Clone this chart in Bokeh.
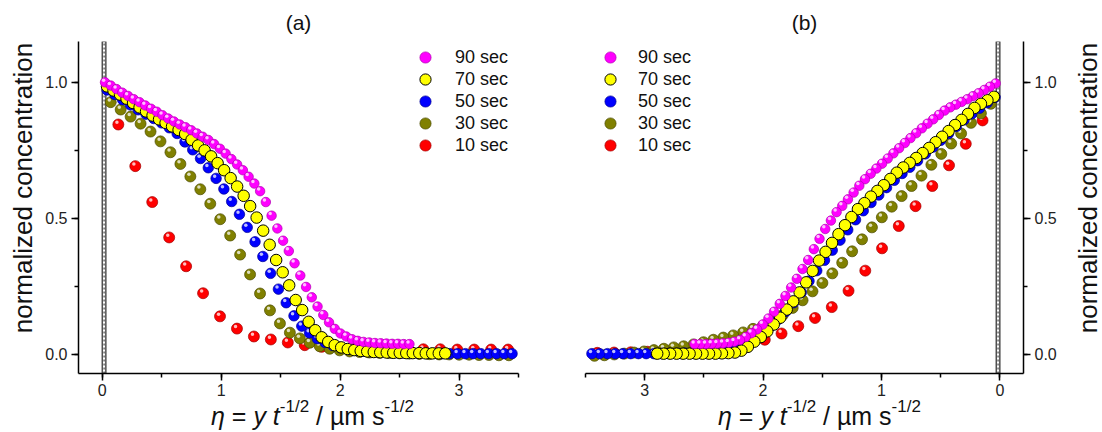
import numpy as np
from bokeh.plotting import figure
from bokeh.layouts import row, column
from bokeh.models import (ColumnDataSource, Range1d, SingleIntervalTicker,
                          PrintfTickFormatter, Legend, LegendItem, Div)
from bokeh.transform import dodge
from bokeh.embed import file_html
from bokeh.resources import INLINE

# ---------------- data ----------------
series_names = ["90 sec", "70 sec", "50 sec", "30 sec", "10 sec"]

# panel (a): eta grid (start, spacing) of each series: 90, 70, 50, 30, 10 s
a_eta_start = [0.023, 0.040, 0.040, 0.071, 0.135]
a_eta_step = [0.0483, 0.0547, 0.0655, 0.0837, 0.1425]

a90 = [1.000, 0.988, 0.975, 0.962, 0.950, 0.938, 0.927, 0.915, 0.903, 0.892,
       0.879, 0.867, 0.856, 0.845, 0.835, 0.824, 0.812, 0.800, 0.788, 0.773,
       0.756, 0.738, 0.718, 0.698, 0.677, 0.653, 0.628, 0.600, 0.560, 0.510,
       0.463, 0.418, 0.380, 0.335, 0.290, 0.248, 0.210, 0.176, 0.145, 0.118,
       0.094, 0.077, 0.066, 0.056, 0.050, 0.046, 0.044, 0.042, 0.041, 0.040,
       0.039, 0.039, 0.038, 0.038]
a70 = [0.985, 0.970, 0.955, 0.940, 0.924, 0.908, 0.893, 0.878, 0.864, 0.851,
       0.838, 0.825, 0.810, 0.789, 0.768, 0.750, 0.728, 0.703, 0.677, 0.648,
       0.617, 0.583, 0.545, 0.503, 0.455, 0.403, 0.347, 0.302, 0.254, 0.200,
       0.163, 0.120, 0.089, 0.063, 0.046, 0.034, 0.026, 0.020, 0.016, 0.013,
       0.011, 0.009, 0.008, 0.007, 0.006, 0.006, 0.005, 0.005, 0.005, 0.004,
       0.004, 0.004, 0.004]
a50 = [0.972, 0.955, 0.936, 0.917, 0.899, 0.883, 0.867, 0.851, 0.833, 0.812,
       0.781, 0.752, 0.720, 0.686, 0.647, 0.608, 0.562, 0.515, 0.467, 0.414,
       0.360, 0.298, 0.240, 0.190, 0.142, 0.104, 0.079, 0.058, 0.044, 0.033,
       0.025, 0.019, 0.015, 0.012, 0.010, 0.008, 0.007, 0.006, 0.005, 0.005,
       0.004, 0.004, 0.004, 0.003, 0.003, 0.003, 0.003, 0.003, 0.003, 0.003,
       0.003, 0.003, 0.003]
a30 = [0.927, 0.900, 0.874, 0.848, 0.819, 0.783, 0.743, 0.700, 0.654, 0.607,
       0.554, 0.497, 0.437, 0.367, 0.294, 0.224, 0.162, 0.114, 0.080, 0.059,
       0.043, 0.030, 0.021, 0.015, 0.011, 0.009, 0.007, 0.006, 0.005, 0.004,
       0.003, 0.002, 0.001, 0.000, 0.000, -0.001, -0.001, -0.002, -0.002, -0.003,
       -0.003]
a10 = [0.845, 0.692, 0.560, 0.430, 0.324, 0.225, 0.140, 0.095, 0.066, 0.055,
       0.044, 0.034, 0.028, 0.024, 0.022, 0.021, 0.020, 0.020, 0.019, 0.019,
       0.018, 0.018, 0.018, 0.018]

# panel (b)
b_eta_start = [0.035, 0.050, 0.040, 0.076, 0.146]
b_eta_step = [0.048, 0.0547, 0.0655, 0.0837, 0.1415]

b90 = [0.996, 0.984, 0.972, 0.960, 0.949, 0.938, 0.928, 0.918, 0.908, 0.896,
       0.880, 0.864, 0.848, 0.831, 0.813, 0.795, 0.777, 0.758, 0.739, 0.720,
       0.701, 0.683, 0.664, 0.644, 0.620, 0.595, 0.570, 0.546, 0.523, 0.492,
       0.461, 0.425, 0.387, 0.347, 0.314, 0.278, 0.246, 0.215, 0.186, 0.157,
       0.132, 0.110, 0.092, 0.078, 0.064, 0.053, 0.047, 0.043, 0.041, 0.040,
       0.039, 0.038, 0.038, 0.038]
b70 = [0.947, 0.934, 0.921, 0.906, 0.884, 0.862, 0.843, 0.821, 0.800, 0.780,
       0.759, 0.740, 0.722, 0.704, 0.687, 0.668, 0.645, 0.622, 0.601, 0.580,
       0.556, 0.534, 0.505, 0.475, 0.442, 0.410, 0.377, 0.345, 0.307, 0.265,
       0.228, 0.195, 0.165, 0.135, 0.110, 0.085, 0.064, 0.047, 0.028, 0.014,
       0.007, 0.005, 0.004, 0.003, 0.003, 0.003, 0.003, 0.003, 0.003, 0.003,
       0.003, 0.003, 0.003]
b50 = [0.945, 0.925, 0.905, 0.884, 0.862, 0.838, 0.812, 0.787, 0.762, 0.737,
       0.712, 0.688, 0.665, 0.640, 0.613, 0.586, 0.558, 0.528, 0.495, 0.458,
       0.420, 0.383, 0.346, 0.308, 0.270, 0.228, 0.190, 0.158, 0.128, 0.102,
       0.080, 0.060, 0.047, 0.035, 0.026, 0.019, 0.014, 0.010, 0.008, 0.006,
       0.005, 0.004, 0.004, 0.003, 0.003, 0.003, 0.003, 0.003, 0.003, 0.003,
       0.003, 0.003, 0.003]
b30 = [0.921, 0.886, 0.851, 0.812, 0.775, 0.737, 0.697, 0.657, 0.619, 0.582,
       0.543, 0.504, 0.467, 0.423, 0.379, 0.337, 0.298, 0.263, 0.232, 0.199,
       0.171, 0.145, 0.122, 0.106, 0.094, 0.081, 0.070, 0.062, 0.054, 0.045,
       0.037, 0.030, 0.026, 0.021, 0.016, 0.011, 0.007, 0.003, 0.000, -0.003,
       -0.005]
b10 = [0.860, 0.774, 0.695, 0.619, 0.545, 0.472, 0.390, 0.308, 0.234, 0.174,
       0.134, 0.104, 0.077, 0.054, 0.038, 0.028, 0.022, 0.018, 0.015, 0.012,
       0.010, 0.008, 0.007, 0.006]

band_eta = [0.0, 0.03]          # reference (interface) band

y_title = "normalized concentration"
x_title_html = ("<i>&eta;</i> = <i>y t</i><span style=\"position:relative;top:-13px;"
                "font-size:17px;\">-1/2</span> / &micro;m s<span style=\"position:relative;"
                "top:-13px;font-size:17px;\">-1/2</span>")

# ---------------- styles ----------------
FONT = "Liberation Sans"
Y0, Y1 = -0.07, 1.15
colors = ["#ff00ff", "#ffff00", "#0000ff", "#808000", "#ff0000"]
edges = ["#b000b0", "#000000", "#000090", "#4a4a00", "#a00000"]
sizes = [9.5, 11.5, 10.5, 11, 11]
TOP, FH, BOT = 41, 332, 28
ROW_H = TOP + FH + BOT
TOTAL_W, TOTAL_H = 1100, 432
YL_W, YR_W = 40, 39


def style_axes(p):
    for ax in list(p.xaxis) + list(p.yaxis):
        ax.axis_line_width = 1.5
        ax.axis_line_color = "black"
        ax.major_tick_line_width = 1.5
        ax.minor_tick_line_width = 1.5
        ax.major_tick_line_color = "black"
        ax.minor_tick_line_color = "black"
        ax.major_tick_in = 0
        ax.major_tick_out = 7
        ax.minor_tick_in = 0
        ax.minor_tick_out = 4
        ax.major_label_text_font = FONT
        ax.major_label_text_font_size = "16px"
        ax.major_label_text_color = "#222222"
    p.xaxis.major_label_standoff = 3
    p.yaxis.major_label_standoff = 4
    p.xaxis.ticker = SingleIntervalTicker(interval=1, num_minor_ticks=2)
    p.yaxis.ticker = SingleIntervalTicker(interval=0.5, num_minor_ticks=2)
    p.yaxis.formatter = PrintfTickFormatter(format="%.1f")


def make_panel(x_range, yloc, fw, mb_l, mb_r, ys, starts, steps, hl_dx,
               leg_x, leg_standoff, title):
    p = figure(frame_width=fw, frame_height=FH, x_range=x_range,
               y_range=Range1d(Y0, Y1), y_axis_location=yloc, title=title,
               output_backend="svg", toolbar_location=None,
               min_border_left=mb_l, min_border_right=mb_r,
               min_border_top=TOP, min_border_bottom=BOT)
    p.xgrid.visible = False
    p.ygrid.visible = False
    p.outline_line_color = None
    p.background_fill_color = "white"
    p.border_fill_color = "white"
    p.title.align = "center"
    p.title.text_font = FONT
    p.title.text_font_size = "21px"
    p.title.text_font_style = "normal"
    p.title.text_color = "#111111"
    p.title.standoff = 16
    style_axes(p)

    # interface band
    p.quad(left=[band_eta[0]], right=[band_eta[1]], bottom=[Y0], top=[Y1],
           fill_color="white", line_color="#505050", line_width=1.5)
    mid = 0.5 * (band_eta[0] + band_eta[1])
    p.segment(x0=[mid], y0=[Y0], x1=[mid], y1=[Y1], line_color="#202020",
              line_dash="2 2", line_width=1)

    rends = {}
    for k in [4, 3, 2, 1, 0]:
        y = np.array(ys[k], dtype=float)
        x = starts[k] + steps[k] * np.arange(len(y))
        src = ColumnDataSource(data=dict(x=x, y=y))
        r = p.scatter("x", "y", source=src, marker="circle", size=sizes[k],
                      fill_color=colors[k], line_color=edges[k],
                      line_width=1.0 if k == 1 else 0.7)
        if k != 1:
            p.scatter(x=dodge("x", hl_dx), y=dodge("y", 0.008), source=src,
                      marker="circle", size=3.5, fill_color="white",
                      fill_alpha=0.75, line_color=None)
        rends[k] = r

    # one legend per entry, so rows can sit 22 px apart with large glyphs
    for k in range(5):
        leg = Legend(items=[LegendItem(label=series_names[k], renderers=[rends[k]])],
                     location=(leg_x, 302 - 22 * k), border_line_color=None,
                     background_fill_alpha=0, label_text_font=FONT,
                     label_text_font_size="18px", label_text_color="#111111",
                     label_standoff=leg_standoff, glyph_width=28, glyph_height=28,
                     label_height=28, padding=0, margin=0)
        p.add_layout(leg)
    return p


pa = make_panel(Range1d(-0.2, 3.5), "left", 440, 38, 10,
                [a90, a70, a50, a30, a10], a_eta_start, a_eta_step, -0.012,
                333, 16, "(a)")
pb = make_panel(Range1d(3.5, -0.2), "right", 438, 57, 38,
                [b90, b70, b50, b30, b10], b_eta_start, b_eta_step, 0.012,
                11, 14, "(b)")


def ylabel_div(w, x_shift):
    html = ("<div style=\"position:relative;width:%dpx;height:%dpx;\">"
            "<span style=\"position:absolute;left:0;top:0;transform-origin:0 0;"
            "transform:translate(%dpx,188px) rotate(-90deg) translate(-50%%,0);"
            "white-space:nowrap;font-family:'Liberation Sans';font-size:26px;"
            "line-height:26px;color:#111111;\">%s</span></div>"
            % (w, ROW_H, x_shift, y_title))
    return Div(text=html, width=w, height=ROW_H, margin=0)


yl = ylabel_div(YL_W, 10)
yr = ylabel_div(YR_W, 14)

span_style = ("position:absolute;top:3px;white-space:nowrap;font-family:'Liberation Sans';"
              "font-size:25px;line-height:25px;color:#111111;")
xs_html = ("<div style=\"position:relative;width:%dpx;height:%dpx;\">" % (TOTAL_W, TOTAL_H - ROW_H)
           + "<span style=\"left:211px;%s\">%s</span>" % (span_style, x_title_html)
           + "<span style=\"left:718px;%s\">%s</span>" % (span_style, x_title_html)
           + "</div>")
xs = Div(text=xs_html, width=TOTAL_W, height=TOTAL_H - ROW_H, margin=0)

layout = column(row(yl, pa, pb, yr), xs)
with open("out.html", "w", encoding="utf-8") as f:
    f.write(file_html(layout, INLINE))
